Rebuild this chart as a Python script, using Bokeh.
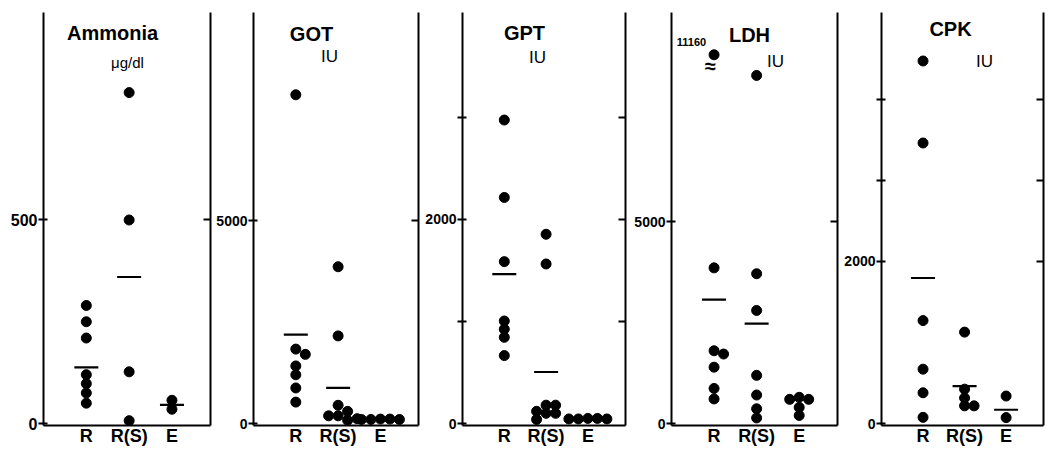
import numpy as np
from bokeh.plotting import figure
from bokeh.layouts import row
from bokeh.models import FixedTicker, LinearAxis, Range1d, Label, ColumnDataSource
from bokeh.embed import file_html
from bokeh.resources import INLINE

# ---------------- data ----------------
categories = ["R", "R(S)", "E"]

ammonia_R = [290, 250, 210, 120, 98, 75, 50]
ammonia_RS = [813, 500, 127, 7]
ammonia_E = [57, 35]
ammonia_mean = [138, 360, 46]

got_R = [8115, 1837, 1707, 1422, 1203, 878, 529]
got_RS = [3870, 2163, 450, 300, 190, 190, 120, 80]
got_E = [110, 100, 100, 100, 110]
got_mean = [2195, 878, 100]

gpt_R = [2975, 2216, 1587, 1005, 925, 845, 666]
gpt_RS = [1855, 1564, 180, 180, 120, 100, 100, 40]
gpt_E = [50, 45, 45, 45, 50]
gpt_mean = [1464, 505, 45]

ldh_R = [11160, 3861, 1805, 1724, 1398, 870, 610]
ldh_RS = [8634, 3715, 2805, 1195, 707, 366, 139]
ldh_E = [650, 600, 600, 400, 200]
ldh_mean = [3073, 2480, 600]

cpk_R = [4469, 3458, 1269, 670, 379, 76]
cpk_RS = [1127, 424, 315, 218, 218]
cpk_E = [339, 73]
cpk_mean = [1794, 460, 170]

titles = ["Ammonia", "GOT", "GPT", "LDH", "CPK"]
units = ["μg/dl", "IU", "IU", "IU", "IU"]

ammonia_ticks = [0, 500]
ammonia_tick_labels = ["0", "500"]
got_ticks = [0, 5000]
got_tick_labels = ["0", "5000"]
gpt_ticks = [0, 1000, 2000, 3000]
gpt_tick_labels = ["0", "", "2000", ""]
ldh_ticks = [0, 5000]
ldh_tick_labels = ["0", "5000"]
cpk_ticks = [0, 2000, 3000, 4000]
cpk_tick_labels = ["0", "2000", "", ""]

panels_data = [
    (ammonia_R, ammonia_RS, ammonia_E, ammonia_mean, ammonia_ticks, ammonia_tick_labels),
    (got_R, got_RS, got_E, got_mean, got_ticks, got_tick_labels),
    (gpt_R, gpt_RS, gpt_E, gpt_mean, gpt_ticks, gpt_tick_labels),
    (ldh_R, ldh_RS, ldh_E, ldh_mean, ldh_ticks, ldh_tick_labels),
    (cpk_R, cpk_RS, cpk_E, cpk_mean, cpk_ticks, cpk_tick_labels),
]

# ---------------- layout (image pixel geometry) ----------------
FONT = "Liberation Sans"
PAGE_OFF = 0
H = 460
X_END = 3.9
TXT_SHIFT = 10
MID_SHIFT = 5
layout = [
    dict(fig=(0, 213), left=43, right=210, top=12, zero=426, ref=(500, 221), lab=16,
         title=(112, 43), unit=(127, 72)),
    dict(fig=(213, 421), left=253, right=418, top=10, zero=426, ref=(5000, 221), lab=14,
         title=(311, 42), unit=(329, 65)),
    dict(fig=(421, 628), left=462, right=625, top=9, zero=426, ref=(2000, 219), lab=14,
         title=(524, 40), unit=(537, 65)),
    dict(fig=(628, 840), left=671, right=837, top=7, zero=425, ref=(5000, 220), lab=14,
         title=(749, 40), unit=(775, 67), cap=9500, cap_show=(713, 50),
         cap_label=(691, 47), squiggle=(710, 66)),
    dict(fig=(840, 1046), left=881, right=1043, top=5, zero=423, ref=(2000, 258), lab=14,
         title=(950, 32), unit=(984, 65)),
]


def dodge(vals, ppu, step_px, thresh=7.5):
    order = sorted(range(len(vals)), key=lambda i: -vals[i])
    placed = []
    offs = [0.0] * len(vals)
    for i in order:
        y = vals[i] * ppu
        for k in [0, 1, -1, 2, -2, 3, -3]:
            x = k * step_px
            if all((x - px) ** 2 + (y - py) ** 2 >= thresh ** 2 for px, py in placed):
                break
        placed.append((x, y))
        offs[i] = x
    return offs


figs = []
for idx, (cfg, pdata) in enumerate(zip(layout, panels_data)):
    R, RS, E, means, ticks, tick_labels = pdata
    ppu = (cfg["zero"] - cfg["ref"][1]) / cfg["ref"][0]
    frame_bottom = cfg["zero"] + 2
    fw = cfg["right"] - cfg["left"]
    fh = frame_bottom - cfg["top"]
    px_per_x = fw / X_END
    y_start = -2 / ppu
    y_end = y_start + fh / ppu

    def py(img_y):
        return (cfg["zero"] - img_y) / ppu

    def pxx(img_x):
        return (img_x - cfg["left"]) / px_per_x

    fx0, fx1 = cfg["fig"]
    W = fx1 - fx0
    p = figure(width=W, height=H, x_range=Range1d(0, X_END), y_range=Range1d(y_start, y_end),
               output_backend="svg", toolbar_location=None,
               min_border_left=(cfg["left"] - PAGE_OFF) - fx0,
               min_border_right=fx1 - (cfg["right"] - PAGE_OFF),
               min_border_top=cfg["top"] - PAGE_OFF,
               min_border_bottom=H - (frame_bottom - PAGE_OFF),
               y_axis_location="left")
    p.xgrid.visible = False
    p.ygrid.visible = False
    p.outline_line_color = None
    p.background_fill_color = "white"
    p.border_fill_color = "white"

    # bottom axis
    xa = p.xaxis[0]
    xa.ticker = FixedTicker(ticks=[1, 2, 3])
    xa.major_label_overrides = {1: categories[0], 2: categories[1], 3: categories[2]}
    xa.major_tick_line_color = None
    xa.major_tick_out = 0
    xa.major_tick_in = 0
    xa.minor_tick_line_color = None
    xa.minor_tick_out = 0
    xa.minor_tick_in = 0
    xa.axis_line_width = 2
    xa.axis_line_color = "black"
    xa.major_label_text_font = FONT
    xa.major_label_text_font_style = "bold"
    xa.major_label_text_font_size = "18px"
    xa.major_label_text_color = "black"
    xa.major_label_standoff = 0

    # left axis
    ya = p.yaxis[0]
    ya.ticker = FixedTicker(ticks=ticks)
    ya.major_label_overrides = {t: l for t, l in zip(ticks, tick_labels)}
    ya.minor_tick_line_color = None
    ya.minor_tick_out = 0
    ya.axis_line_width = 2
    ya.major_tick_line_width = 2
    ya.major_tick_out = 5
    ya.major_tick_in = 4
    ya.major_label_standoff = 1
    ya.major_label_text_font = FONT
    ya.major_label_text_font_style = "bold"
    ya.major_label_text_font_size = "%dpx" % cfg["lab"]
    ya.major_label_text_color = "black"
    ya.axis_line_color = "black"
    ya.major_tick_line_color = "black"

    # right axis
    rticks = [t for t in ticks if t != 0]
    ra = LinearAxis(ticker=FixedTicker(ticks=rticks),
                    major_label_overrides={t: "" for t in rticks},
                    major_label_text_font_size="1px", major_label_standoff=0,
                    major_tick_in=7, major_tick_out=0, major_tick_line_width=2,
                    minor_tick_line_color=None, minor_tick_out=0, axis_line_width=2,
                    axis_line_color="black", major_tick_line_color="black")
    p.add_layout(ra, "right")

    # mean lines
    p.scatter(x=[1, 2, 3], y=means, marker="dash", size=24, line_width=2.2,
              line_color="black")

    # dots
    xs, ys = [], []
    cap = cfg.get("cap")
    for ci, vals in enumerate([R, RS, E]):
        disp = []
        for v in vals:
            if cap is not None and v > cap:
                disp.append(py(cfg["cap_show"][1]))
            else:
                disp.append(v)
        offs = dodge(disp, ppu, 9.5)
        for v, o in zip(disp, offs):
            xs.append(ci + 1 + o / px_per_x)
            ys.append(v)
    p.scatter(x=xs, y=ys, size=10, fill_color="black", line_color="black", marker="circle")

    # titles
    tx, ty = cfg["title"]
    p.add_layout(Label(x=pxx(tx), y=py(ty - TXT_SHIFT), text=titles[idx], text_font=FONT,
                       text_font_style="bold", text_font_size="20px", text_align="center",
                       text_baseline="alphabetic", text_color="black"))
    ux, uy = cfg["unit"]
    p.add_layout(Label(x=pxx(ux), y=py(uy - TXT_SHIFT), text=units[idx], text_font=FONT,
                       text_font_size="17px" if units[idx] == "IU" else "15px",
                       text_align="center", text_baseline="alphabetic", text_color="black"))
    if cap is not None:
        big = [v for v in R + RS + E if v > cap]
        lx, ly = cfg["cap_label"]
        p.add_layout(Label(x=pxx(lx), y=py(ly - TXT_SHIFT), text=str(big[0]), text_font=FONT,
                           text_font_style="bold", text_font_size="11px", text_align="center",
                           text_baseline="alphabetic", text_color="black"))
        sx, sy = cfg["squiggle"]
        p.add_layout(Label(x=pxx(sx), y=py(sy - MID_SHIFT), text="≈", text_font=FONT,
                           text_font_style="bold", text_font_size="20px", text_align="center",
                           text_baseline="middle", text_color="black"))
    figs.append(p)

layout_row = row(*figs, spacing=0)
open("out.html", "w").write(file_html(layout_row, INLINE))
